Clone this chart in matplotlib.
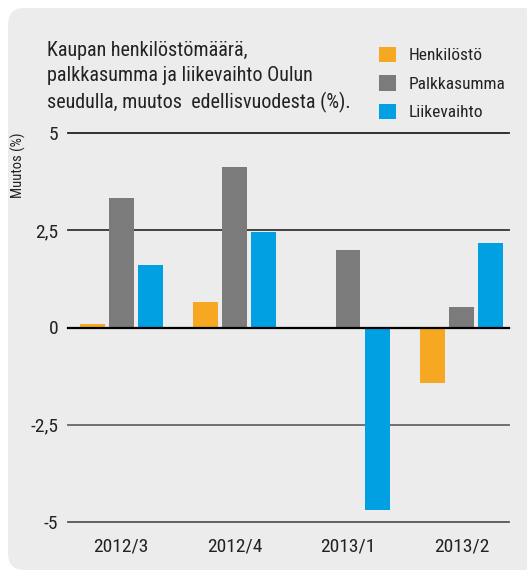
import numpy as np
import matplotlib
matplotlib.use('Agg')
import matplotlib.pyplot as plt
from matplotlib.patches import FancyBboxPatch

quarters = ['2012/3', '2012/4', '2013/1', '2013/2']
henkilosto = [0.08, 0.65, 0.0, -1.42]
palkkasumma = [3.32, 4.12, 1.98, 0.52]
liikevaihto = [1.60, 2.45, -4.70, 2.18]
series_names = ['Henkilöstö', 'Palkkasumma', 'Liikevaihto']
colors = ['#f7a823', '#7b7b7b', '#00a0e2']
yticks = [-5, -2.5, 0, 2.5, 5]
ytick_labels = ['-5', '-2,5', '0', '2,5', '5']

plt.rcParams['font.family'] = ['Roboto Condensed', 'DejaVu Sans']

W, H = 527, 574
fig = plt.figure(figsize=(W / 100, H / 100), dpi=100)
fig.patch.set_facecolor('white')

# gray rounded panel behind everything
panel = FancyBboxPatch((8 / W, 4 / H), 530 / W, 562 / H,
                       boxstyle='round,pad=0,rounding_size=0.03',
                       transform=fig.transFigure, facecolor='#ececec',
                       edgecolor='none', zorder=-5)
fig.patches.append(panel)

ax = fig.add_axes([68 / W, 1 - 522 / H, (509 - 68) / W, (522 - 133) / H])
ax.set_facecolor('none')
for s in ax.spines.values():
    s.set_visible(False)

x = np.arange(len(quarters))
bw = 0.22
off = 0.256
for i, (vals, c) in enumerate(zip([henkilosto, palkkasumma, liikevaihto], colors)):
    ax.bar(x + (i - 1) * off, vals, width=bw, color=c, zorder=3, label=series_names[i])

grid_colors = {5: '#222222', 2.5: '#333333', 0: '#000000', -2.5: '#666666', -5: '#555555'}
for yv in yticks:
    lw = 1.6 if yv == 0 else 1.3
    ax.axhline(yv, color=grid_colors[yv], lw=lw, zorder=4 if yv == 0 else 2, clip_on=False)

ax.set_xlim(-0.47, 3.42)
ax.set_ylim(-5, 5)
ax.set_yticks(yticks)
ax.set_yticklabels(ytick_labels)
ax.set_xticks(x)
ax.set_xticklabels(quarters)
ax.tick_params(axis='both', length=0, labelsize=14, colors='#222222')
ax.tick_params(axis='y', pad=7)
ax.tick_params(axis='x', pad=11)

fig.text(18 / W, 1 - 165 / H, 'Muutos (%)', rotation=90, ha='center', va='center',
         fontsize=10.5, color='#222222')

fig.text(47 / W, 1 - 41 / H,
         'Kaupan henkilöstömäärä,\npalkkasumma ja liikevaihto Oulun\nseudulla, muutos  edellisvuodesta (%).',
         ha='left', va='top', fontsize=14.5, color='#222222', linespacing=1.4)

leg = ax.legend(loc='upper left', bbox_to_anchor=(363 / W, 1 - 31 / H),
                bbox_transform=fig.transFigure, frameon=False, fontsize=12.5,
                handlelength=1.0, handleheight=1.0, labelspacing=0.68,
                handletextpad=0.7)
for t in leg.get_texts():
    t.set_color('#222222')

fig.savefig('out.png', dpi=100, facecolor='white')
